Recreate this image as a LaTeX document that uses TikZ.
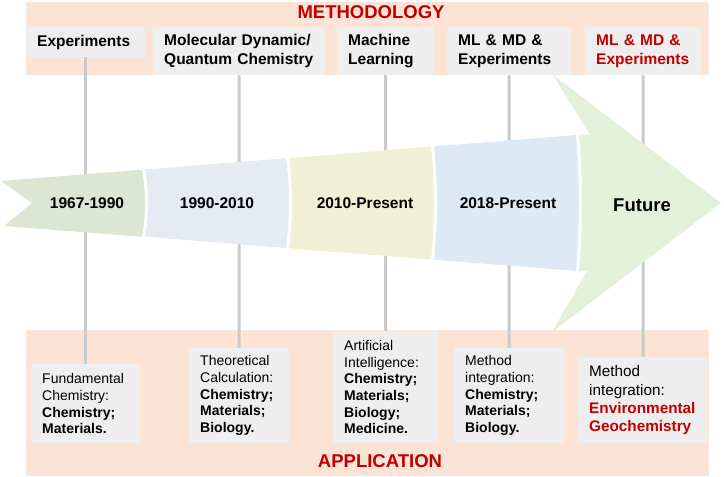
\documentclass[tikz,border=0pt]{standalone}
\usepackage{fontspec}
\setmainfont{Liberation Sans}
\definecolor{bandpeach}{HTML}{FBE4D5}
\definecolor{boxgray}{HTML}{EEEEEE}
\definecolor{linegray}{HTML}{CACACA}
\definecolor{titlered}{HTML}{C00000}
\definecolor{eraA}{HTML}{DCE6D2}
\definecolor{eraB}{HTML}{E5EAF3}
\definecolor{eraC}{HTML}{EFF0D6}
\definecolor{eraD}{HTML}{DEE9F6}
\definecolor{eraE}{HTML}{E3F1DB}
\newcommand{\hdrfont}{\fontsize{15.5bp}{19bp}\selectfont\bfseries}
\newcommand{\appfont}{\fontsize{14bp}{16.7bp}\selectfont}
\newcommand{\bandfont}{\fontsize{18.5bp}{22bp}\selectfont\bfseries}
\tikzset{
  hdrbox/.style={fill=boxgray,anchor=north west,inner xsep=11bp,inner ysep=0bp,align=left,font=\hdrfont},
  appbox/.style={fill=boxgray,anchor=north west,inner xsep=11bp,inner ysep=0bp,align=left,font=\appfont},
  bandlbl/.style={text=titlered,font=\bandfont},
  yearlbl/.style={font=\hdrfont},
  conn/.style={linegray,line width=3bp},
}
\begin{document}
\begin{tikzpicture}[line join=bevel]
\useasboundingbox (0bp,0bp) rectangle (724bp,477bp);
%%
\fill [bandpeach] (26bp,402bp) rectangle (709bp,475bp);
\fill [bandpeach] (26bp,1bp) rectangle (709bp,147bp);
\node (band_top) at (371bp,465bp) [bandlbl] {METHODOLOGY};
\node (band_bot) at (380bp,15.5bp) [bandlbl] {APPLICATION};
%
  \node (hdr_0) at (26bp,450bp) [hdrbox,text width=97bp,minimum height=30bp] {Experiments};
  \node (hdr_1) at (153bp,450bp) [hdrbox,text width=150bp,minimum height=48bp] {Molecular Dynamic/\\Quantum Chemistry};
  \node (hdr_2) at (337bp,450bp) [hdrbox,text width=75bp,minimum height=48bp] {Machine\\Learning};
  \node (hdr_3) at (447bp,450bp) [hdrbox,text width=102bp,minimum height=48bp] {ML \& MD \&\\Experiments};
  \node (hdr_4) at (585bp,450bp) [hdrbox,text width=94bp,minimum height=48bp,text=titlered] {ML \& MD \&\\Experiments};
%
  \node (app_0) at (31bp,113bp) [appbox,text width=87bp,minimum height=79bp] {Fundamental\\Chemistry:\\\textbf{Chemistry;}\\\textbf{Materials.}};
  \node (app_1) at (189bp,129bp) [appbox,text width=78bp,minimum height=95bp] {Theoretical\\Calculation:\\\textbf{Chemistry;}\\\textbf{Materials;}\\\textbf{Biology.}};
  \node (app_2) at (333bp,146bp) [appbox,text width=83bp,minimum height=112bp] {Artificial\\Intelligence:\\\textbf{Chemistry;}\\\textbf{Materials;}\\\textbf{Biology;}\\\textbf{Medicine.}};
  \node (app_3) at (454bp,129bp) [appbox,text width=88bp,minimum height=95bp] {Method\\integration:\\\textbf{Chemistry;}\\\textbf{Materials;}\\\textbf{Biology.}};
  \node (app_4) at (578bp,120bp) [appbox,text width=108bp,minimum height=86bp,font=\fontsize{15.3bp}{18.3bp}\selectfont] {Method\\integration:\\\textcolor{titlered}{\textbf{Environmental}}\\\textcolor{titlered}{\textbf{Geochemistry}}};
%
  \draw [conn] (hdr_0) -- (app_0);
  \draw [conn] (hdr_1) -- (app_1);
  \draw [conn] (hdr_2) -- (app_2);
  \draw [conn] (hdr_3) -- (app_3);
  \draw [conn] (hdr_4) -- (app_4);
%
\fill [eraA] (1bp,296bp) -- (142bp,307.3bp) ..controls (146bp,284.9bp) and (146bp,262.6bp) .. (142bp,240.2bp) -- (4bp,251bp) -- (32bp,274bp) -- cycle;
\fill [eraB] (145bp,307.5bp) -- (286bp,318.8bp) ..controls (290bp,288.8bp) and (290bp,258.9bp) .. (286bp,228.9bp) -- (145bp,240.4bp) ..controls (149bp,262.8bp) and (149bp,285.1bp) .. (145bp,307.5bp) -- cycle;
\fill [eraC] (289bp,319bp) -- (431bp,330.4bp) ..controls (435bp,292.8bp) and (435bp,255.1bp) .. (431bp,217.5bp) -- (289bp,228.6bp) ..controls (293bp,258.7bp) and (293bp,288.9bp) .. (289bp,319bp) -- cycle;
\fill [eraD] (434bp,330.6bp) -- (576bp,342bp) ..controls (580bp,296.7bp) and (580bp,251.3bp) .. (576bp,206bp) -- (434bp,217.2bp) ..controls (438bp,254.9bp) and (438bp,292.9bp) .. (434bp,330.6bp) -- cycle;
\fill [eraE] (579bp,342bp) -- (590bp,342bp) -- (553bp,402bp) -- (721bp,274bp) -- (552bp,145bp) -- (587bp,206bp) -- (579bp,206bp) ..controls (583bp,251.3bp) and (583bp,296.7bp) .. (579bp,342bp) -- cycle;
%
  \node (era_0) at (87bp,274bp) [yearlbl] {1967-1990};
  \node (era_1) at (217bp,274bp) [yearlbl] {1990-2010};
  \node (era_2) at (365bp,274bp) [yearlbl] {2010-Present};
  \node (era_3) at (508bp,274bp) [yearlbl] {2018-Present};
  \node (era_4) at (642bp,272bp) [yearlbl,font=\bandfont] {Future};
%
\end{tikzpicture}
\end{document}
